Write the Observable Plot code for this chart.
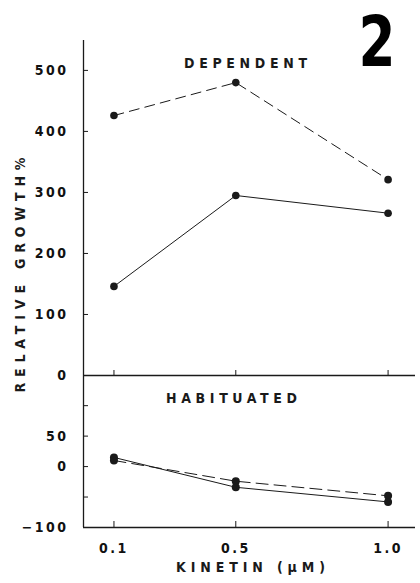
<!DOCTYPE html>
<html>
<head>
<meta charset="utf-8">
<script src="https://cdn.jsdelivr.net/npm/d3@7"></script>
<script src="https://cdn.jsdelivr.net/npm/@observablehq/plot@0.6"></script>
<style>
  html, body { margin: 0; padding: 0; background: #fff; }
  #chart { position: relative; width: 420px; height: 583px; overflow: hidden; }
  #top, #bottom { position: absolute; left: 0; }
  #top { top: 0; }
  #bottom { top: 370px; }
</style>
</head>
<body>
<div id="chart"><div id="top"></div><div id="bottom"></div></div>
<script>
// Kinetin concentration (µM)
const kinetin = [0.1, 0.5, 1.0];
const kinetinLabels = ["0.1", "0.5", "1.0"];

// DEPENDENT panel (relative growth %)
const dependentDashed = [426, 480, 321];
const dependentSolid = [146, 295, 266];

// HABITUATED panel (relative growth %)
const habituatedDashed = [10, -24, -48];
const habituatedSolid = [15, -34, -58];

// Tick values / labels
const topTicks = [500, 400, 300, 200, 100, 0];
const topTickLabels = ["500", "400", "300", "200", "100", "0"];
const bottomTicks = [100, 50, 0, -50, -100];
const bottomTickLabels = ["", "50", "0", "", "\u2212100"];

const panelTitles = ["DEPENDENT", "HABITUATED"];
const yLabel = "RELATIVE GROWTH%";
const xLabel = "KINETIN (\u03BCM)";
const figureNumber = "2";

const rows = (ys) => kinetin.map((k, i) => ({k, v: ys[i]}));

const FONT = '"Liberation Sans Narrow", "DejaVu Sans Condensed", "Roboto Condensed", "Arial Narrow", Roboto, sans-serif';
const baseStyle = {fontFamily: FONT, fontSize: "14px", fontWeight: "bold", letterSpacing: "2.5px", background: "transparent", overflow: "visible", color: "#111"};
const xDomain = [0, 1.09];
const INK = "#1a1a1a";

const topPlot = Plot.plot({
  width: 420, height: 380,
  marginLeft: 83, marginRight: 5, marginTop: 40, marginBottom: 5,
  style: baseStyle,
  x: {domain: xDomain},
  y: {domain: [0, 549]},
  marks: [
    Plot.ruleX([0], {stroke: INK, strokeWidth: 1.3}),
    Plot.ruleY([0], {stroke: INK, strokeWidth: 1.3}),
    Plot.axisY({ticks: topTicks, tickSize: -5, tickPadding: 20, label: null, stroke: INK,
      tickFormat: d => topTickLabels[topTicks.indexOf(d)]}),
    Plot.axisX({anchor: "bottom", ticks: kinetin, tickSize: -5, label: null, stroke: INK, tickFormat: () => ""}),
    Plot.line(rows(dependentDashed), {x: "k", y: "v", stroke: INK, strokeWidth: 1, strokeDasharray: "10,6"}),
    Plot.line(rows(dependentSolid), {x: "k", y: "v", stroke: INK, strokeWidth: 1}),
    Plot.dot(rows(dependentDashed), {x: "k", y: "v", r: 3.8, fill: INK, stroke: "none"}),
    Plot.dot(rows(dependentSolid), {x: "k", y: "v", r: 3.8, fill: INK, stroke: "none"}),
    Plot.text([panelTitles[0]], {text: d => d, frameAnchor: "top", lineAnchor: "middle", dx: -4, dy: 23, fontSize: 14, fill: INK}),
    Plot.text([figureNumber], {text: d => d, frameAnchor: "top-right", lineAnchor: "middle", textAnchor: "end", dx: -20, dy: 3, fontSize: 70, fontWeight: 900, fill: "#000"}),
    Plot.text([yLabel], {text: d => d, frameAnchor: "left", lineAnchor: "middle", textAnchor: "middle", rotate: -90, dx: -63, dy: 67, fontSize: 14, fill: INK})
  ]
});

const bottomPlot = Plot.plot({
  width: 420, height: 213,
  marginLeft: 83, marginRight: 5, marginTop: 5, marginBottom: 56,
  style: baseStyle,
  x: {domain: xDomain},
  y: {domain: [-100, 149.5]},
  marks: [
    Plot.ruleX([0], {stroke: INK, strokeWidth: 1.3}),
    Plot.ruleY([-100], {stroke: INK, strokeWidth: 1.5}),
    Plot.axisY({ticks: bottomTicks, tickSize: -5, tickPadding: 20, label: null, stroke: INK,
      tickFormat: d => bottomTickLabels[bottomTicks.indexOf(d)]}),
    Plot.axisX({anchor: "bottom", ticks: kinetin, tickSize: -6, tickPadding: 22, label: null, stroke: INK,
      tickFormat: d => kinetinLabels[kinetin.indexOf(d)]}),
    Plot.line(rows(habituatedDashed), {x: "k", y: "v", stroke: INK, strokeWidth: 1, strokeDasharray: "12,6"}),
    Plot.line(rows(habituatedSolid), {x: "k", y: "v", stroke: INK, strokeWidth: 1}),
    Plot.dot(rows(habituatedDashed), {x: "k", y: "v", r: 4, fill: INK, stroke: "none"}),
    Plot.dot(rows(habituatedSolid), {x: "k", y: "v", r: 4, fill: INK, stroke: "none"}),
    Plot.text([panelTitles[1]], {text: d => d, frameAnchor: "top", lineAnchor: "middle", dx: -18, dy: 23, fontSize: 14, fill: INK}),
    Plot.text([xLabel], {text: d => d, frameAnchor: "bottom", lineAnchor: "middle", dx: 1, dy: 40, fontSize: 14, fill: INK})
  ]
});

document.getElementById("top").appendChild(topPlot);
document.getElementById("bottom").appendChild(bottomPlot);

// Stretch spaced-out lettering to the reference's widths
const fitText = {};
fitText[panelTitles[0]] = [123, "spacing"];
fitText[panelTitles[1]] = [131, "spacing"];
fitText[yLabel] = [235, "spacing"];
fitText[xLabel] = [149, "spacing"];
fitText[figureNumber] = [37, "spacingAndGlyphs"];
for (const svg of [topPlot, bottomPlot]) {
  d3.select(svg).selectAll("text").each(function() {
    const f = fitText[this.textContent];
    if (f) {
      d3.select(this).style("letter-spacing", "0px").attr("textLength", f[0]).attr("lengthAdjust", f[1]);
    }
  });
}
</script>
</body>
</html>
